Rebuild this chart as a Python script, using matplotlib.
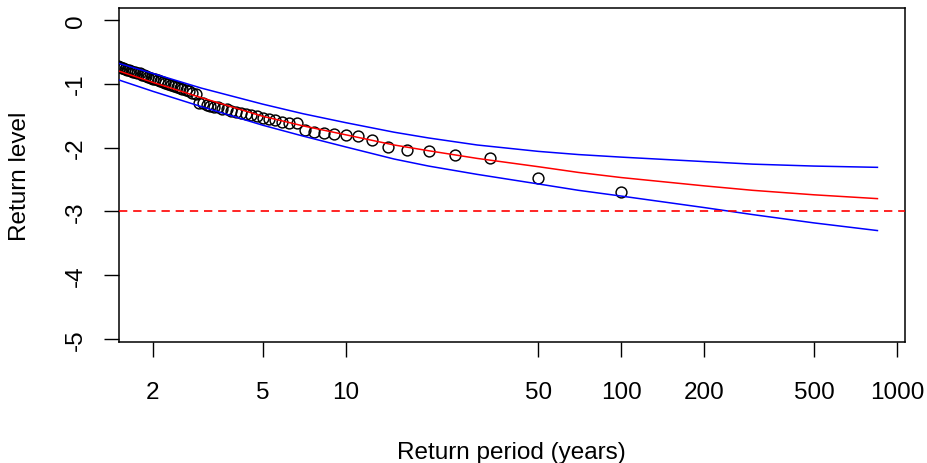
import numpy as np
import matplotlib
matplotlib.use("Agg")
import matplotlib.pyplot as plt
from matplotlib.ticker import FixedLocator, FixedFormatter, NullLocator

# Empirical return levels (open circles), by return period in years
return_period = [100, 50, 33.33, 25, 20, 16.67, 14.29, 12.5, 11.11, 10,
                 9.09, 8.33, 7.69, 7.14, 6.67, 6.25, 5.88, 5.56, 5.26, 5.0,
                 4.76, 4.55, 4.35, 4.17, 4.0, 3.85, 3.70, 3.57, 3.45, 3.33,
                 3.23, 3.13, 3.03, 2.94, 2.86, 2.78, 2.70, 2.63, 2.56, 2.5,
                 2.44, 2.38, 2.33, 2.27, 2.22, 2.17, 2.13, 2.08, 2.04, 2.0,
                 1.96, 1.92, 1.89, 1.85, 1.82, 1.79, 1.75, 1.72, 1.69, 1.67,
                 1.64, 1.61, 1.59, 1.56, 1.54, 1.52, 1.49, 1.47]
return_level = [-2.69, -2.48, -2.17, -2.12, -2.06, -2.04, -1.99, -1.88, -1.82, -1.80,
                -1.79, -1.77, -1.75, -1.72, -1.62, -1.61, -1.60, -1.57, -1.55, -1.53,
                -1.51, -1.49, -1.47, -1.46, -1.44, -1.42, -1.40, -1.39, -1.37, -1.36,
                -1.35, -1.33, -1.31, -1.30, -1.16, -1.14, -1.12, -1.10, -1.08, -1.07,
                -1.05, -1.04, -1.02, -1.01, -0.99, -0.97, -0.96, -0.95, -0.93, -0.92,
                -0.91, -0.89, -0.88, -0.87, -0.86, -0.84, -0.83, -0.82, -0.81, -0.80,
                -0.79, -0.78, -0.77, -0.76, -0.75, -0.74, -0.73, -0.72]

# Fitted return level curve and confidence bounds
curve_period = [1.5, 2, 3, 5, 7, 10, 15, 20, 30, 50, 70, 100, 200, 300, 500, 850]
curve_fit = [-0.80, -0.98, -1.22, -1.51, -1.66, -1.80, -1.96, -2.05, -2.17, -2.30,
             -2.39, -2.47, -2.60, -2.67, -2.74, -2.80]
curve_upper = [-0.68, -0.84, -1.07, -1.32, -1.47, -1.61, -1.76, -1.85, -1.96, -2.06,
               -2.11, -2.15, -2.22, -2.26, -2.29, -2.31]
curve_lower = [-0.94, -1.12, -1.36, -1.65, -1.82, -1.99, -2.18, -2.29, -2.42, -2.57,
               -2.67, -2.76, -2.94, -3.05, -3.18, -3.30]

threshold = -3.0

x_ticks = [2, 5, 10, 50, 100, 200, 500, 1000]
x_tick_labels = ["2", "5", "10", "50", "100", "200", "500", "1000"]
y_ticks = [0, -1, -2, -3, -4, -5]
y_tick_labels = ["0", "-1", "-2", "-3", "-4", "-5"]

plt.rcParams["font.family"] = ["Liberation Sans", "DejaVu Sans"]

fig = plt.figure(figsize=(9.28, 4.64), dpi=100)
ax = fig.add_axes([0.1277, 0.2601, 0.8475, 0.7198])

ax.plot(return_period, return_level, linestyle="none", marker="o",
        markersize=7.8, markerfacecolor="none", markeredgecolor="black",
        markeredgewidth=1.05, zorder=2)
ax.plot(curve_period, curve_fit, color="red", lw=1.1, zorder=3)
ax.plot(curve_period, curve_upper, color="blue", lw=1.1, zorder=3)
ax.plot(curve_period, curve_lower, color="blue", lw=1.1, zorder=3)
ax.axhline(threshold, color="red", lw=1.2, dashes=(5, 3.5), zorder=3)

ax.set_xscale("log")
ax.set_xlim(1.5, 1070)
ax.set_ylim(-5.05, 0.18)

ax.xaxis.set_major_locator(FixedLocator(x_ticks))
ax.xaxis.set_major_formatter(FixedFormatter(x_tick_labels))
ax.xaxis.set_minor_locator(NullLocator())
ax.yaxis.set_major_locator(FixedLocator(y_ticks))
ax.yaxis.set_major_formatter(FixedFormatter(y_tick_labels))

ax.tick_params(axis="both", direction="out", length=10.5, width=1.0,
               labelsize=17.5, colors="black")
ax.tick_params(axis="x", pad=17)
ax.tick_params(axis="y", pad=12)
for lab in ax.get_yticklabels():
    lab.set_rotation(90)
    lab.set_va("center")

for s in ax.spines.values():
    s.set_linewidth(1.1)
    s.set_color("black")

ax.set_xlabel("Return period (years)", fontsize=17.5, labelpad=28)
ax.set_ylabel("Return level", fontsize=17.5, labelpad=25)

fig.savefig("out.png", dpi=100)
